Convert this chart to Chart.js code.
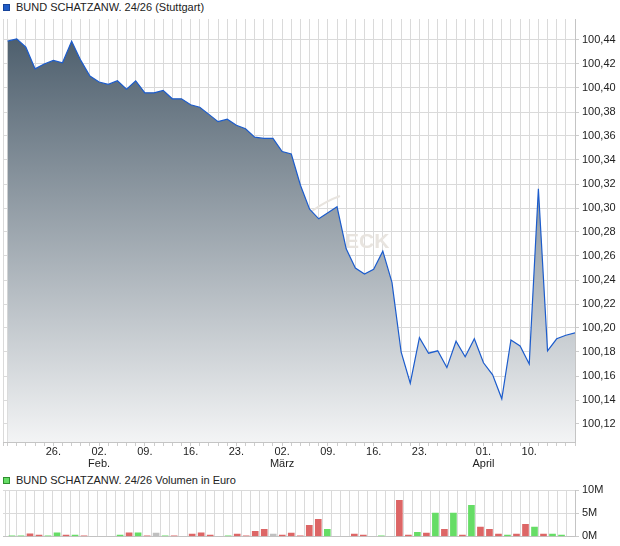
<!DOCTYPE html>
<html>
<head>
<meta charset="utf-8">
<script src="https://cdn.jsdelivr.net/npm/chart.js@4.4.1/dist/chart.umd.min.js"></script>
<style>
  body { margin: 0; background: #fff; font-family: 'Liberation Sans', Arial, sans-serif; }
  #wrap { position: relative; width: 620px; height: 546px; overflow: hidden; }
  .legend { position: absolute; left: 3px; padding-left: 13px; font-size: 11px; line-height: 13px; color: #222; white-space: nowrap; }
  .legend .box { position: absolute; left: 0; top: 3px; width: 5px; height: 5px; border: 1px solid; }
  .panel { position: absolute; left: 0; width: 620px; }
</style>
</head>
<body>
<div id="wrap">
  <div class="legend" style="top:1px"><span class="box" style="background:#1f5cc6;border-color:#17449a"></span>BUND SCHATZANW. 24/26 (Stuttgart)</div>
  <div class="panel" style="top:0;height:470px"><canvas id="priceChart"></canvas></div>
  <div class="legend" style="top:474px"><span class="box" style="background:#66dd66;border-color:#2f8f2f"></span>BUND SCHATZANW. 24/26 Volumen in Euro</div>
  <div class="panel" style="top:470px;height:76px"><canvas id="volumeChart"></canvas></div>
</div>
<script>
// trading days (2026)
var days = ['19.01.','20.01.','21.01.','22.01.','23.01.','26.01.','27.01.','28.01.','29.01.','30.01.',
            '02.02.','03.02.','04.02.','05.02.','06.02.','09.02.','10.02.','11.02.','12.02.','13.02.',
            '16.02.','17.02.','18.02.','19.02.','20.02.','23.02.','24.02.','25.02.','26.02.','27.02.',
            '02.03.','03.03.','04.03.','05.03.','06.03.','09.03.','10.03.','11.03.','12.03.','13.03.',
            '16.03.','17.03.','18.03.','19.03.','20.03.','23.03.','24.03.','25.03.','26.03.','27.03.',
            '30.03.','31.03.','01.04.','02.04.','07.04.','08.04.','09.04.','10.04.','13.04.','14.04.',
            '15.04.','16.04.','17.04.'];

var prices = [100.439, 100.441, 100.434, 100.416, 100.420, 100.423, 100.421, 100.439, 100.423, 100.410,
              100.405, 100.403, 100.406, 100.399, 100.406, 100.396, 100.396, 100.398, 100.391, 100.391,
              100.386, 100.384, 100.378, 100.372, 100.374, 100.369, 100.366, 100.359, 100.358, 100.358,
              100.347, 100.345, 100.319, 100.299, 100.291, 100.296, 100.301, 100.266, 100.250, 100.245,
              100.249, 100.264, 100.238, 100.180, 100.154, 100.192, 100.179, 100.181, 100.167, 100.189,
              100.176, 100.191, 100.171, 100.161, 100.141, 100.190, 100.185, 100.170, 100.316, 100.181,
              100.191, 100.194, 100.196];

// volume in million euro
var volumes = [0.1, 0.1, 0.55, 0.3, 0.1, 0.75, 0.3, 0.3, 0.1, 0,
               0, 0, 0.3, 0.75, 0.75, 0.1, 0.7, 0.1, 0.1, 0,
               0.5, 0.75, 0.3, 0, 0.1, 0.5, 0.1, 1.1, 1.5, 0.5,
               0.3, 0.7, 0.1, 2.4, 3.7, 1.5, 0, 0, 0.5, 0.3,
               0, 0.1, 0, 7.8, 0.3, 0.9, 0.7, 5.0, 1.5, 5.0,
               0.3, 6.7, 2.0, 1.5, 0.5, 0.3, 0.5, 2.6, 2.0, 0.5,
               0.5, 0.3, 0];

var volumeTrend = ['up','up','down','down','up','up','down','up','down','flat',
                   'flat','flat','up','down','up','down','flat','up','down','flat',
                   'down','down','down','flat','up','down','down','down','down','flat',
                   'down','down','down','down','down','up','flat','flat','down','down',
                   'flat','up','flat','down','down','up','down','up','down','up',
                   'down','up','down','down','down','up','down','down','up','down',
                   'up','up','flat'];

var tickDays = ['26.01.', '02.02.', '09.02.', '16.02.', '23.02.', '02.03.', '09.03.', '16.03.', '23.03.', '01.04.', '10.04.'];
var tickText = ['26.', ['02.', 'Feb.'], '09.', '16.', '23.', ['02.', 'März'], '09.', '16.', '23.', ['01.', 'April'], '10.'];
var priceTicks = [100.12, 100.14, 100.16, 100.18, 100.20, 100.22, 100.24, 100.26, 100.28, 100.30, 100.32, 100.34, 100.36, 100.38, 100.40, 100.42, 100.44];
var volumeTicks = [0, 5, 10];

var trendColors = { up: '#66dd66', down: '#dd6666', flat: '#c0c0c0' };
var fontFamily = "'Liberation Sans', Arial, sans-serif";
var gridColor = '#dadada';

var labelAt = {};
tickDays.forEach(function(d, k) { labelAt[days.indexOf(d)] = tickText[k]; });

function dayTicks(scale) {
    scale.ticks = [{value: -0.5}].concat(days.map(function(d, i) { return {value: i}; }));
}

var watermark = {
    id: 'watermark',
    beforeDatasetsDraw: function(chart) {
        var ctx = chart.ctx;
        ctx.save();
        ctx.fillStyle = '#e8e4df';
        ctx.strokeStyle = '#e8e4df';
        ctx.font = 'bold 21px ' + fontFamily;
        ctx.fillText('ECK', 345, 248);
        ctx.lineWidth = 2;
        ctx.beginPath();
        ctx.moveTo(312, 211);
        ctx.quadraticCurveTo(326, 201, 340, 196);
        ctx.stroke();
        ctx.restore();
    }
};

new Chart(document.getElementById('priceChart'), {
    type: 'line',
    data: {
        datasets: [{
            data: prices.map(function(p, i) { return {x: i, y: p}; }),
            borderColor: '#1c5ccc',
            borderWidth: 1.2,
            pointRadius: 0,
            tension: 0,
            fill: 'start',
            backgroundColor: function(c) {
                var a = c.chart.chartArea;
                if (!a) return '#8a99a4';
                var g = c.chart.ctx.createLinearGradient(0, a.top, 0, a.bottom);
                g.addColorStop(0, '#465867');
                g.addColorStop(1, '#f3f4f5');
                return g;
            }
        }]
    },
    options: {
        animation: false,
        responsive: true,
        maintainAspectRatio: false,
        layout: { padding: { left: 3, top: 19, right: 0, bottom: 0 } },
        plugins: { legend: { display: false }, tooltip: { enabled: false } },
        scales: {
            x: {
                type: 'linear',
                min: -0.5,
                max: days.length - 1,
                afterBuildTicks: dayTicks,
                afterFit: function(s) { s.height = 28; },
                grid: { color: gridColor, tickLength: 4, tickColor: '#cccccc' },
                border: { color: '#c4c4c4' },
                ticks: {
                    autoSkip: false, maxRotation: 0, padding: 0, color: '#222',
                    font: { family: fontFamily, size: 11, lineHeight: 1.1 },
                    callback: function(v) { return labelAt[v] || ''; }
                }
            },
            y: {
                position: 'right',
                min: 100.105,
                max: 100.4575,
                afterBuildTicks: function(s) { s.ticks = priceTicks.map(function(v) { return {value: v}; }); },
                afterFit: function(s) { s.width = 45; },
                grid: { color: gridColor, tickLength: 4, tickColor: '#cccccc' },
                border: { color: '#c4c4c4' },
                ticks: {
                    padding: 3, color: '#222',
                    font: { family: fontFamily, size: 11 },
                    callback: function(v) { return v.toFixed(2).replace('.', ','); }
                }
            }
        }
    },
    plugins: [watermark]
});

new Chart(document.getElementById('volumeChart'), {
    type: 'bar',
    data: {
        datasets: [{
            data: volumes.map(function(v, i) { return {x: i, y: v}; }),
            backgroundColor: volumeTrend.map(function(t) { return trendColors[t]; }),
            barThickness: 6
        }]
    },
    options: {
        animation: false,
        responsive: true,
        maintainAspectRatio: false,
        layout: { padding: { left: 3, top: 20, right: 0, bottom: 9 } },
        plugins: { legend: { display: false }, tooltip: { enabled: false } },
        scales: {
            x: {
                type: 'linear',
                min: -0.5,
                max: days.length - 1,
                afterBuildTicks: dayTicks,
                grid: { color: gridColor, drawTicks: false },
                border: { color: '#c4c4c4' },
                ticks: { display: false }
            },
            y: {
                position: 'right',
                min: 0,
                max: 10,
                afterBuildTicks: function(s) { s.ticks = volumeTicks.map(function(v) { return {value: v}; }); },
                afterFit: function(s) { s.width = 45; },
                grid: { color: gridColor, tickLength: 4, tickColor: '#cccccc' },
                border: { color: '#c4c4c4' },
                ticks: {
                    padding: 3, color: '#222',
                    font: { family: fontFamily, size: 11 },
                    callback: function(v) { return v + 'M'; }
                }
            }
        }
    }
});
</script>
</body>
</html>
